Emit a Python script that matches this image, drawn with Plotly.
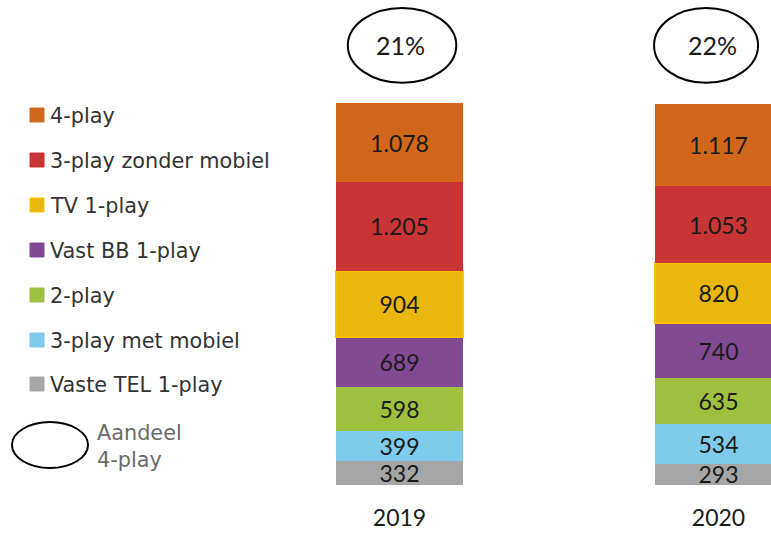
import plotly.graph_objects as go

# --- data -------------------------------------------------------------
years = ["2019", "2020"]
series = ["4-play", "3-play zonder mobiel", "TV 1-play", "Vast BB 1-play",
          "2-play", "3-play met mobiel", "Vaste TEL 1-play"]
values_2019 = [1078, 1205, 904, 689, 598, 399, 332]
values_2020 = [1117, 1053, 820, 740, 635, 534, 293]

# --- styling ----------------------------------------------------------
colors = ["#D2661A", "#C93434", "#EAB70E", "#834A94",
          "#9FC03F", "#7FCBEB", "#A6A6A6"]
outline = {"TV 1-play": ("#FFC000", 2)}

W, H = 771, 533
M_B = 48                      # bottom margin (room for year labels)
PLOT_H = H - M_B
UNIT_PX = 319                 # pixels between the two year columns
X0_PX = 399.5                 # pixel position of first column
Y_MAX = 6608.5                # value at top of plot area

def px_x(px):
    return px / W

def px_y(py):
    return (PLOT_H - py) / PLOT_H

fig = go.Figure()

x_pos = list(range(len(years)))
# stack from the bottom category upwards
for name, col, a, b in reversed(list(zip(series, colors, values_2019, values_2020))):
    lc, lw = outline.get(name, ("rgba(0,0,0,0)", 0))
    fig.add_trace(go.Bar(
        x=x_pos, y=[a, b], name=name,
        width=127 / UNIT_PX,
        marker=dict(color=col, line=dict(color=lc, width=lw)),
        texttemplate="%{y:,}", textposition="inside",
        insidetextanchor="middle", textangle=0,
        textfont=dict(family="Lato", size=23, color="#1a1a1a"),
        cliponaxis=False, showlegend=False,
    ))

shapes = []
annotations = []

# share of 4-play per year, shown in an ellipse above each column
ell_dx = [0.008, -0.039]
ell_rx = [0.17, 0.163]
ell_y = (5480, 6500)
totals = [sum(values_2019), sum(values_2020)]
four_play = [values_2019[0], values_2020[0]]
for i, (tot, fp) in enumerate(zip(totals, four_play)):
    cx = x_pos[i] + ell_dx[i]
    shapes.append(dict(type="circle", xref="x", yref="y",
                       x0=cx - ell_rx[i], x1=cx + ell_rx[i],
                       y0=ell_y[0], y1=ell_y[1],
                       line=dict(color="black", width=2)))
    annotations.append(dict(xref="x", yref="y", x=x_pos[i] + ell_dx[i] / 2,
                            y=sum(ell_y) / 2, text=f"{round(fp / tot * 100)}%",
                            showarrow=False, xanchor="center", yanchor="middle",
                            font=dict(family="Lato", size=25, color="#1a1a1a")))

# hand-placed legend on the left
row_y = [115, 160, 205, 250, 295, 340, 384]
for name, col, ry in zip(series, colors, row_y):
    lc = outline.get(name, (col, 0))[0]
    shapes.append(dict(type="rect", xref="paper", yref="paper",
                       x0=px_x(30), x1=px_x(44), y0=px_y(ry + 7), y1=px_y(ry - 7),
                       fillcolor=col, line=dict(color=lc, width=1)))
    annotations.append(dict(xref="paper", yref="paper", x=px_x(48), y=px_y(ry + 1),
                            text=name, showarrow=False, xanchor="left",
                            yanchor="middle",
                            font=dict(family="DejaVu Sans", size=20.8, color="#333333")))

shapes.append(dict(type="circle", xref="paper", yref="paper",
                   x0=px_x(12), x1=px_x(88), y0=px_y(468), y1=px_y(422),
                   line=dict(color="black", width=2)))
annotations.append(dict(xref="paper", yref="paper", x=px_x(95), y=px_y(446),
                        text="Aandeel<br>4-play", showarrow=False, align="left",
                        xanchor="left", yanchor="middle",
                        font=dict(family="DejaVu Sans", size=20.8, color="#6b6b6b")))

fig.update_layout(
    width=W, height=H,
    margin=dict(l=0, r=0, t=0, b=M_B, autoexpand=False),
    barmode="stack",
    separators=",.",
    paper_bgcolor="white", plot_bgcolor="white",
    uniformtext=dict(minsize=23, mode="show"),
    shapes=shapes, annotations=annotations,
    showlegend=False,
    xaxis=dict(range=[-X0_PX / UNIT_PX, (W - X0_PX) / UNIT_PX],
               tickvals=x_pos, ticktext=years, showgrid=False, zeroline=False,
               showline=False, ticks="", ticklabelstandoff=17,
               tickfont=dict(family="Lato", size=23, color="#1a1a1a"),
               fixedrange=True),
    yaxis=dict(range=[0, Y_MAX], visible=False, showgrid=False,
               zeroline=False, fixedrange=True),
)

fig.write_html("out.html")
